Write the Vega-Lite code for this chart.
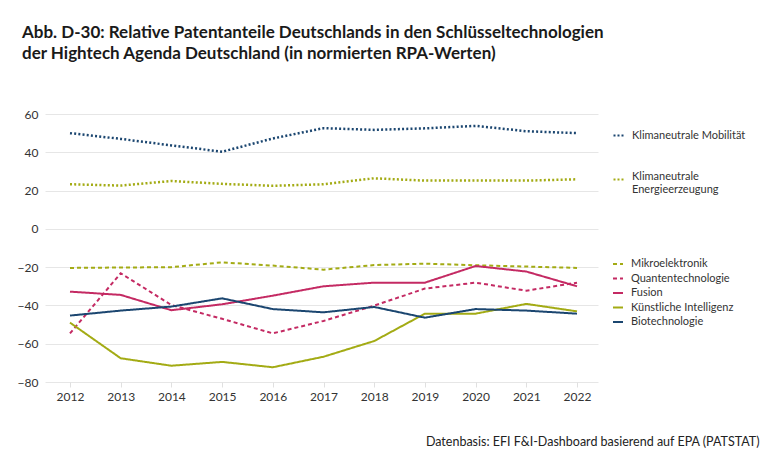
{
  "$schema": "https://vega.github.io/schema/vega-lite/v6.json",
  "autosize": "none",
  "width": 553,
  "height": 268,
  "padding": {"left": 45, "top": 114, "right": 168, "bottom": 86},
  "background": "white",
  "title": {
    "text": ["Abb. D-30: Relative Patentanteile Deutschlands in den Schlüsseltechnologien", "der Hightech Agenda Deutschland (in normierten RPA-Werten)"],
    "anchor": "start",
    "frame": "group",
    "dx": -23,
    "offset": 45,
    "font": "Lato",
    "fontSize": 17,
    "fontWeight": "bold",
    "lineHeight": 21.5,
    "color": "#1a1a1a"
  },
  "config": {
    "font": "Lato",
    "view": {"stroke": null},
    "axis": {
      "labelFont": "Lato",
      "labelFontSize": 12,
      "labelColor": "#333333",
      "gridColor": "#e6e6e6",
      "gridWidth": 1,
      "domain": false
    },
    "legend": {
      "labelFont": "Lato",
      "labelFontSize": 11,
      "labelColor": "#333333",
      "symbolType": "stroke",
      "symbolSize": 100,
      "symbolStrokeWidth": 2,
      "rowPadding": 3.5,
      "labelOffset": 7,
      "title": null,
      "orient": "none"
    }
  },
  "data": {
    "values": [
      {"tech": "Klimaneutrale Mobilität", "year": 2012, "value": 50.0},
      {"tech": "Klimaneutrale Mobilität", "year": 2013, "value": 47.0},
      {"tech": "Klimaneutrale Mobilität", "year": 2014, "value": 43.6},
      {"tech": "Klimaneutrale Mobilität", "year": 2015, "value": 40.3},
      {"tech": "Klimaneutrale Mobilität", "year": 2016, "value": 47.2},
      {"tech": "Klimaneutrale Mobilität", "year": 2017, "value": 52.6},
      {"tech": "Klimaneutrale Mobilität", "year": 2018, "value": 51.7},
      {"tech": "Klimaneutrale Mobilität", "year": 2019, "value": 52.5},
      {"tech": "Klimaneutrale Mobilität", "year": 2020, "value": 53.8},
      {"tech": "Klimaneutrale Mobilität", "year": 2021, "value": 51.0},
      {"tech": "Klimaneutrale Mobilität", "year": 2022, "value": 50.0},
      {"tech": "Klimaneutrale Energieerzeugung", "year": 2012, "value": 23.3},
      {"tech": "Klimaneutrale Energieerzeugung", "year": 2013, "value": 22.6},
      {"tech": "Klimaneutrale Energieerzeugung", "year": 2014, "value": 25.0},
      {"tech": "Klimaneutrale Energieerzeugung", "year": 2015, "value": 23.5},
      {"tech": "Klimaneutrale Energieerzeugung", "year": 2016, "value": 22.5},
      {"tech": "Klimaneutrale Energieerzeugung", "year": 2017, "value": 23.3},
      {"tech": "Klimaneutrale Energieerzeugung", "year": 2018, "value": 26.4},
      {"tech": "Klimaneutrale Energieerzeugung", "year": 2019, "value": 25.2},
      {"tech": "Klimaneutrale Energieerzeugung", "year": 2020, "value": 25.2},
      {"tech": "Klimaneutrale Energieerzeugung", "year": 2021, "value": 25.2},
      {"tech": "Klimaneutrale Energieerzeugung", "year": 2022, "value": 25.9},
      {"tech": "Mikroelektronik", "year": 2012, "value": -20.4},
      {"tech": "Mikroelektronik", "year": 2013, "value": -20.2},
      {"tech": "Mikroelektronik", "year": 2014, "value": -20.0},
      {"tech": "Mikroelektronik", "year": 2015, "value": -17.5},
      {"tech": "Mikroelektronik", "year": 2016, "value": -19.2},
      {"tech": "Mikroelektronik", "year": 2017, "value": -21.3},
      {"tech": "Mikroelektronik", "year": 2018, "value": -18.9},
      {"tech": "Mikroelektronik", "year": 2019, "value": -18.2},
      {"tech": "Mikroelektronik", "year": 2020, "value": -19.0},
      {"tech": "Mikroelektronik", "year": 2021, "value": -19.7},
      {"tech": "Mikroelektronik", "year": 2022, "value": -20.4},
      {"tech": "Quantentechnologie", "year": 2012, "value": -54.6},
      {"tech": "Quantentechnologie", "year": 2013, "value": -23.2},
      {"tech": "Quantentechnologie", "year": 2014, "value": -39.8},
      {"tech": "Quantentechnologie", "year": 2015, "value": -47.0},
      {"tech": "Quantentechnologie", "year": 2016, "value": -54.6},
      {"tech": "Quantentechnologie", "year": 2017, "value": -48.1},
      {"tech": "Quantentechnologie", "year": 2018, "value": -40.1},
      {"tech": "Quantentechnologie", "year": 2019, "value": -31.2},
      {"tech": "Quantentechnologie", "year": 2020, "value": -28.1},
      {"tech": "Quantentechnologie", "year": 2021, "value": -32.3},
      {"tech": "Quantentechnologie", "year": 2022, "value": -28.1},
      {"tech": "Fusion", "year": 2012, "value": -32.8},
      {"tech": "Fusion", "year": 2013, "value": -34.5},
      {"tech": "Fusion", "year": 2014, "value": -42.5},
      {"tech": "Fusion", "year": 2015, "value": -39.4},
      {"tech": "Fusion", "year": 2016, "value": -34.9},
      {"tech": "Fusion", "year": 2017, "value": -30.0},
      {"tech": "Fusion", "year": 2018, "value": -28.1},
      {"tech": "Fusion", "year": 2019, "value": -28.1},
      {"tech": "Fusion", "year": 2020, "value": -19.4},
      {"tech": "Fusion", "year": 2021, "value": -22.3},
      {"tech": "Fusion", "year": 2022, "value": -30.0},
      {"tech": "Künstliche Intelligenz", "year": 2012, "value": -49.0},
      {"tech": "Künstliche Intelligenz", "year": 2013, "value": -67.6},
      {"tech": "Künstliche Intelligenz", "year": 2014, "value": -71.5},
      {"tech": "Künstliche Intelligenz", "year": 2015, "value": -69.5},
      {"tech": "Künstliche Intelligenz", "year": 2016, "value": -72.3},
      {"tech": "Künstliche Intelligenz", "year": 2017, "value": -66.8},
      {"tech": "Künstliche Intelligenz", "year": 2018, "value": -58.6},
      {"tech": "Künstliche Intelligenz", "year": 2019, "value": -44.3},
      {"tech": "Künstliche Intelligenz", "year": 2020, "value": -44.3},
      {"tech": "Künstliche Intelligenz", "year": 2021, "value": -39.2},
      {"tech": "Künstliche Intelligenz", "year": 2022, "value": -43.1},
      {"tech": "Biotechnologie", "year": 2012, "value": -45.3},
      {"tech": "Biotechnologie", "year": 2013, "value": -42.7},
      {"tech": "Biotechnologie", "year": 2014, "value": -40.6},
      {"tech": "Biotechnologie", "year": 2015, "value": -36.3},
      {"tech": "Biotechnologie", "year": 2016, "value": -41.9},
      {"tech": "Biotechnologie", "year": 2017, "value": -43.6},
      {"tech": "Biotechnologie", "year": 2018, "value": -40.8},
      {"tech": "Biotechnologie", "year": 2019, "value": -46.4},
      {"tech": "Biotechnologie", "year": 2020, "value": -41.9},
      {"tech": "Biotechnologie", "year": 2021, "value": -42.7},
      {"tech": "Biotechnologie", "year": 2022, "value": -44.3}
    ]
  },
  "encoding": {
    "x": {
      "field": "year",
      "type": "quantitative",
      "scale": {"domain": [2011.507, 2022.414], "nice": false, "zero": false},
      "axis": {
        "values": [2012, 2013, 2014, 2015, 2016, 2017, 2018, 2019, 2020, 2021, 2022],
        "format": "d",
        "grid": false,
        "ticks": true,
        "tickColor": "#e0e0e0",
        "tickSize": 5,
        "labelPadding": 4,
        "title": "Datenbasis: EFI F&I-Dashboard basierend auf EPA (PATSTAT)",
        "titleFont": "Lato",
        "titleFontSize": 12.5,
        "titleFontWeight": "normal",
        "titleColor": "#222222",
        "titleAnchor": "end",
        "titleAlign": "right",
        "titleBaseline": "middle",
        "titleX": 714,
        "titleY": 59
      }
    },
    "y": {
      "field": "value",
      "type": "quantitative",
      "scale": {"domain": [-80, 60], "nice": false},
      "axis": {
        "values": [-80, -60, -40, -20, 0, 20, 40, 60],
        "ticks": false,
        "labelPadding": 7,
        "title": null
      }
    }
  },
  "layer": [
    {
      "transform": [{"filter": "datum.tech == 'Klimaneutrale Mobilität'"}],
      "mark": {"type": "line", "strokeWidth": 2.5, "strokeDash": [2, 2.2], "strokeCap": "butt"},
      "encoding": {
        "color": {
          "field": "tech",
          "type": "nominal",
          "scale": {"domain": ["Klimaneutrale Mobilität"], "range": ["#1b4670"]},
          "legend": {"legendX": 567, "legendY": 15, "symbolDash": [2, 2], "symbolStrokeWidth": 2.2}
        }
      }
    },
    {
      "transform": [{"filter": "datum.tech == 'Klimaneutrale Energieerzeugung'"}],
      "mark": {"type": "line", "strokeWidth": 2.5, "strokeDash": [2, 2.2], "strokeCap": "butt"},
      "encoding": {
        "color": {
          "field": "tech",
          "type": "nominal",
          "scale": {"domain": ["Klimaneutrale Energieerzeugung"], "range": ["#a3ab14"]},
          "legend": {
            "legendX": 567,
            "legendY": 59,
            "symbolDash": [2, 2],
            "symbolStrokeWidth": 2.2,
            "labelExpr": "['Klimaneutrale', 'Energieerzeugung']",
            "labelBaseline": "alphabetic"
          }
        }
      }
    },
    {
      "transform": [{"filter": "datum.tech != 'Klimaneutrale Mobilität' && datum.tech != 'Klimaneutrale Energieerzeugung'"}],
      "mark": {"type": "line", "strokeWidth": 2},
      "encoding": {
        "color": {
          "field": "tech",
          "type": "nominal",
          "scale": {
            "domain": ["Mikroelektronik", "Quantentechnologie", "Fusion", "Künstliche Intelligenz", "Biotechnologie"],
            "range": ["#a3ab14", "#c42a63", "#c42a63", "#a3ab14", "#1b4670"]
          },
          "legend": {"legendX": 567, "legendY": 144}
        },
        "strokeDash": {
          "field": "tech",
          "type": "nominal",
          "scale": {
            "domain": ["Mikroelektronik", "Quantentechnologie", "Fusion", "Künstliche Intelligenz", "Biotechnologie"],
            "range": [[4, 3], [4, 3], [1, 0], [1, 0], [1, 0]]
          },
          "legend": {"legendX": 567, "legendY": 144}
        }
      }
    }
  ],
  "resolve": {"scale": {"color": "independent", "strokeDash": "independent"}}
}
